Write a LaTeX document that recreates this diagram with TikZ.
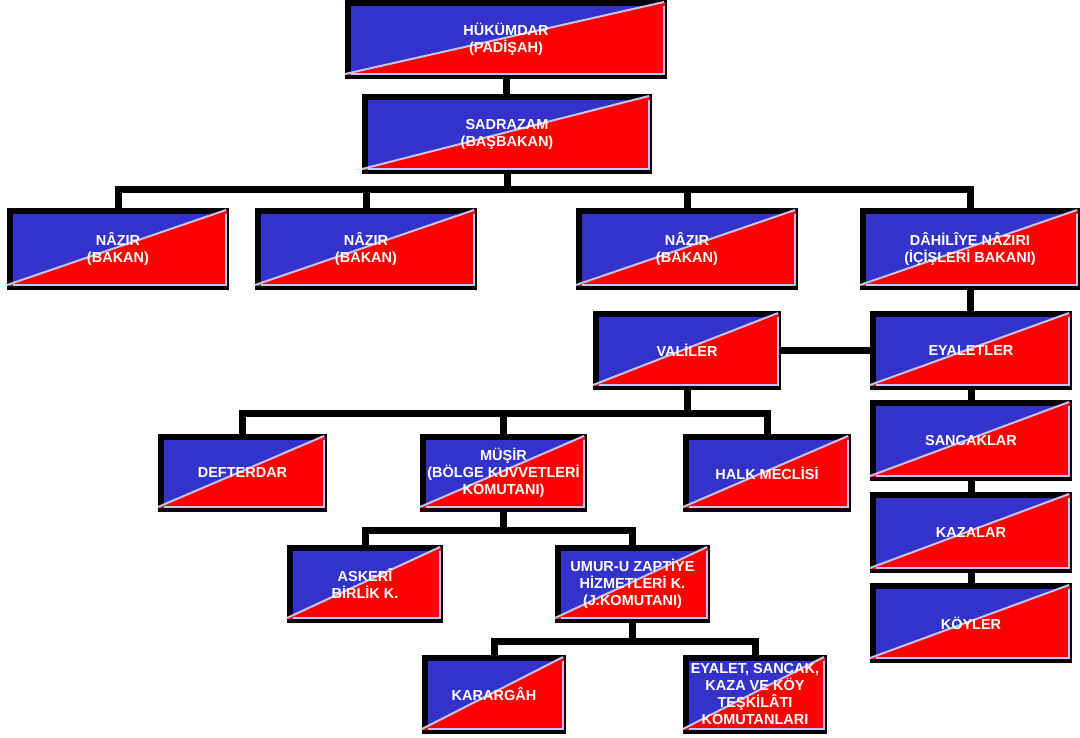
\documentclass[tikz,border=0pt]{standalone}
\usepackage{fontspec}
\setmainfont{Liberation Sans}
\usepackage{tikz}
\usetikzlibrary{
  calc,
  backgrounds,
}
\definecolor{boxBlue}{HTML}{3333CC}
\definecolor{boxRed}{HTML}{FF0000}
\definecolor{edgeLav}{HTML}{C4C4F4}
\tikzset{
  orgBox/.style 2 args={
    rectangle, fill=black, inner sep=0pt, outer sep=0pt,
    minimum width=#1, minimum height=#2, align=center,
    text=white, font=\bfseries\fontsize{14.5}{17}\selectfont,
    path picture={
      \coordinate (bsw) at (path picture bounding box.south west);
      \coordinate (bne) at (path picture bounding box.north east);
      \coordinate (isw) at ($(bsw)+(6pt,4pt)$);
      \coordinate (ine) at ($(bne)+(-2pt,-6pt)$);
      \fill[boxBlue] (isw) rectangle (ine);
      \fill[boxRed] (bsw |- isw) -- (isw -| ine) -- ($(bne)+(-2pt,-2pt)$) -- cycle;
      \draw[edgeLav, line width=2pt] ($(ine)+(-1pt,0pt)$) |- ($(isw)+(0pt,1pt)$);
      \draw[edgeLav, line width=2pt] ($(bsw)+(0pt,5pt)$) -- ($(bne)+(-3pt,-2pt)$);
    },
  },
  linkLine/.style={
    line width=7pt, draw=black,
  },
}

\begin{document}
\begin{tikzpicture}[x=1pt, y=-1pt]
\useasboundingbox (0,0) rectangle (1080,738);

% top of the chain
\node[orgBox={322pt}{79pt}] (hukumdar) at (506,39.5) {HÜKÜMDAR\\(PADİŞAH)};
\node[orgBox={290pt}{80pt}] (sadrazam) at (507,134) {SADRAZAM\\(BAŞBAKAN)};

% ministers
\node[orgBox={222pt}{82pt}] (nazirA) at (118,249) {NÂZIR\\(BAKAN)};
\node[orgBox={222pt}{82pt}] (nazirB) at (366,249) {NÂZIR\\(BAKAN)};
\node[orgBox={222pt}{82pt}] (nazirC) at (687,249) {NÂZIR\\(BAKAN)};
\node[orgBox={220pt}{82pt}] (dahiliye) at (970,249) {DÂHİLÎYE NÂZIRI\\(İÇİŞLERİ BAKANI)};

% provinces
\node[orgBox={188pt}{79pt}] (valiler) at (687,350.5) {VALİLER};
\node[orgBox={202pt}{79pt}] (eyaletler) at (971,350.5) {EYALETLER};
\node[orgBox={202pt}{81pt}] (sancaklar) at (971,440.5) {SANCAKLAR};
\node[orgBox={202pt}{81pt}] (kazalar) at (971,532.5) {KAZALAR};
\node[orgBox={202pt}{80pt}] (koyler) at (971,623) {KÖYLER};

% under the governors
\node[orgBox={169pt}{78pt}] (defterdar) at (242.5,473) {DEFTERDAR};
\node[orgBox={167pt}{78pt}] (musir) at (503.5,473) {MÜŞİR\\(BÖLGE KUVVETLERİ\\KOMUTANI)};
\node[orgBox={168pt}{78pt}] (halk) at (767,473) {HALK MECLİSİ};
\node[orgBox={156pt}{78pt}] (askeri) at (365,584) {ASKERÎ\\BİRLİK K.};
\node[orgBox={155pt}{78pt}] (umur) at (632.5,584) {UMUR-U ZAPTİYE\\HİZMETLERİ K.\\(J.KOMUTANI)};
\node[orgBox={144pt}{79pt}] (karargah) at (494,694.5) {KARARGÂH};
\node[orgBox={144pt}{79pt}] (teskilat) at (755,694.5) {EYALET, SANCAK,\\KAZA VE KÖY\\TEŞKİLÂTI\\KOMUTANLARI};

\coordinate (busTop) at (507,190);
\coordinate (busVali) at (686,413);
\coordinate (busMusir) at (503,530);
\coordinate (busUmur) at (633,641);

\begin{scope}[on background layer]
\draw[linkLine] (hukumdar.south) -- (hukumdar.south |- sadrazam.north);
\draw[linkLine] (sadrazam.south) -- (sadrazam.south |- busTop);
\draw[linkLine] (nazirA.north) |- (busTop) -| (dahiliye.north);
\draw[linkLine] (nazirB.north) -- (nazirB.north |- busTop);
\draw[linkLine] (nazirC.north) -- (nazirC.north |- busTop);
\draw[linkLine] (dahiliye.south) -- (dahiliye.south |- eyaletler.north);
\draw[linkLine] (valiler.east) -- (eyaletler.west);
\draw[linkLine] (eyaletler.south) -- (sancaklar.north);
\draw[linkLine] (sancaklar.south) -- (kazalar.north);
\draw[linkLine] (kazalar.south) -- (koyler.north);
\draw[linkLine] (valiler.south) -- (valiler.south |- busVali);
\draw[linkLine] (defterdar.north) |- (busVali) -| (halk.north);
\draw[linkLine] (musir.north) -- (musir.north |- busVali);
\draw[linkLine] (musir.south) -- (musir.south |- busMusir);
\draw[linkLine] (askeri.north) |- (busMusir) -| (umur.north);
\draw[linkLine] (umur.south) -- (umur.south |- busUmur);
\draw[linkLine] (karargah.north) |- (busUmur) -| (teskilat.north);
\end{scope}
\end{tikzpicture}
\end{document}
